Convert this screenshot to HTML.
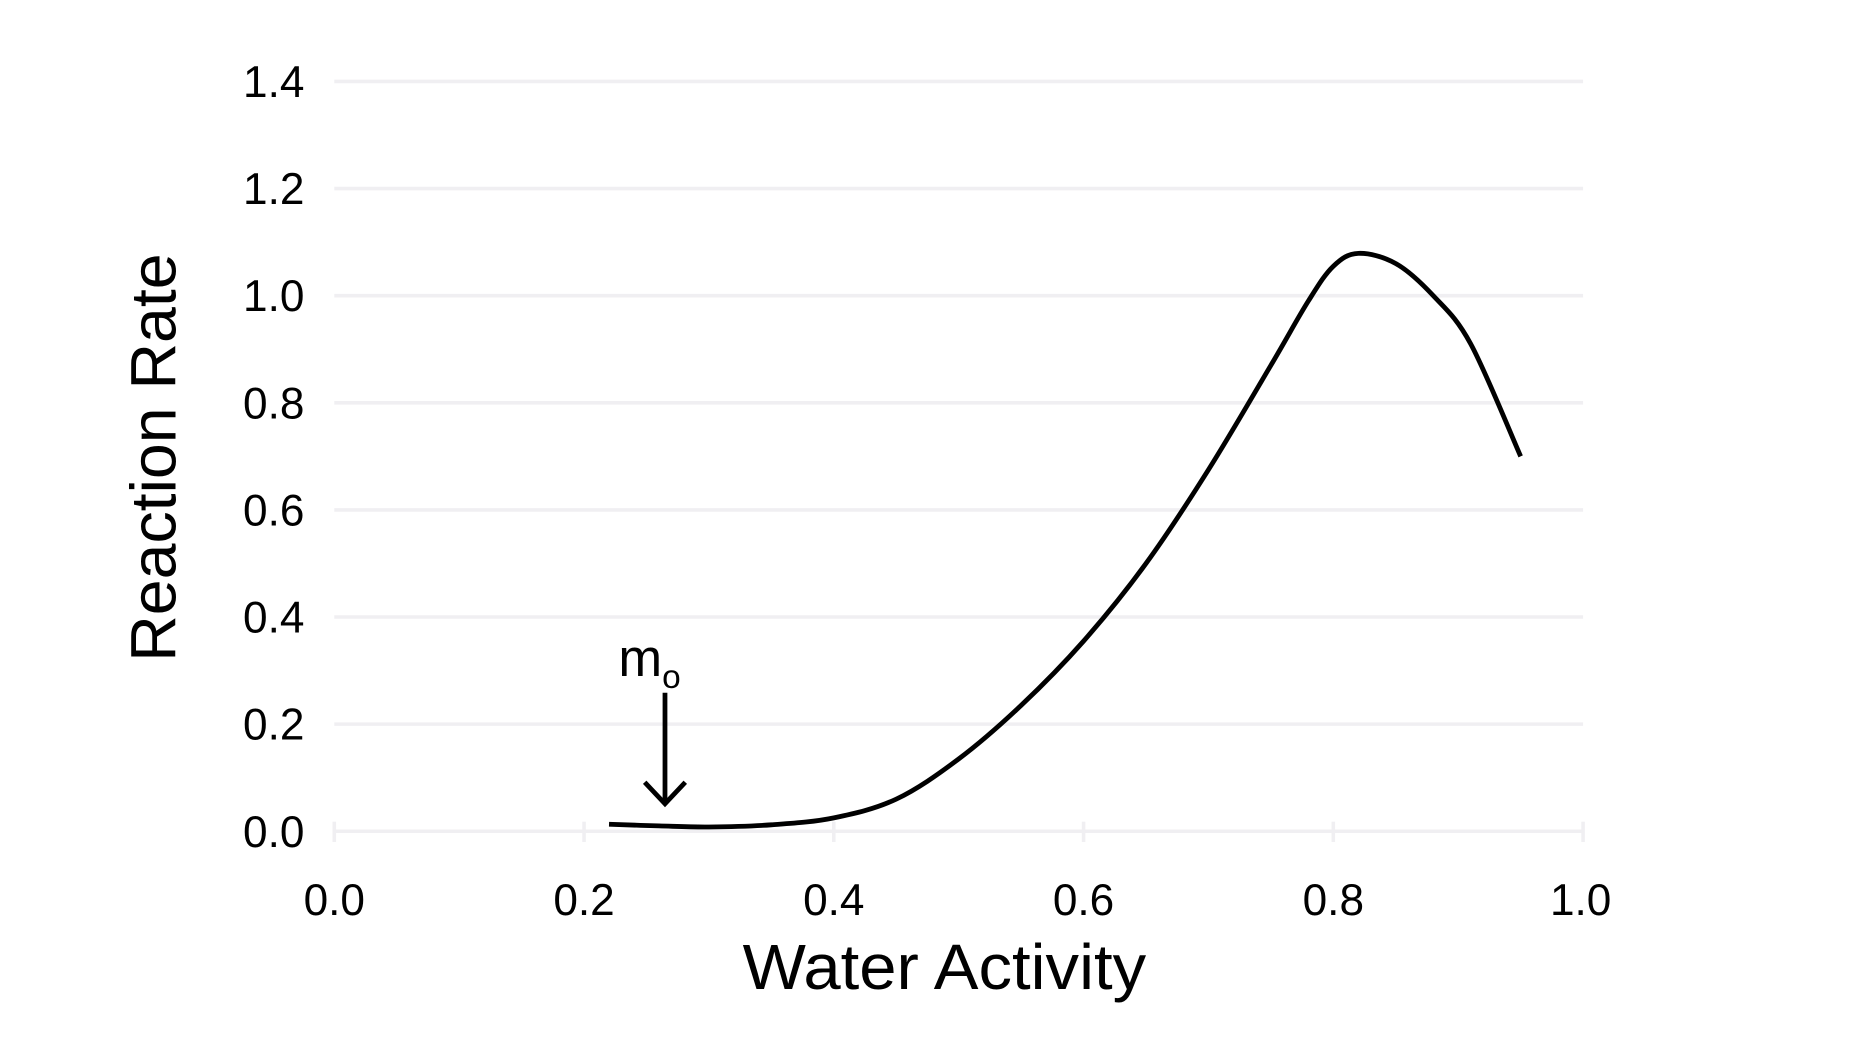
<!DOCTYPE html>
<html><head><meta charset="utf-8"><style>
html,body{margin:0;padding:0;background:#fff;}
svg{display:block;font-family:"Liberation Sans",sans-serif;}
</style></head><body>
<svg id="chart" width="1872" height="1056" viewBox="0 0 1568 884" xmlns="http://www.w3.org/2000/svg">
<g id="grid"></g>
<g id="yticks"></g>
<g id="xticks"></g>
<path id="curve" fill="none" stroke="#000" stroke-width="4" stroke-linecap="butt"/>
<g>
<text x="518" y="566" font-size="44">m<tspan font-size="28" dy="10">o</tspan></text>
<line x1="557" y1="580" x2="557" y2="673" stroke="#000" stroke-width="4"/>
<polyline points="540,655 557,673 574,655" fill="none" stroke="#000" stroke-width="4"/>
</g>
<text x="791" y="828" font-size="54" text-anchor="middle" textLength="338" lengthAdjust="spacingAndGlyphs">Water Activity</text>
<text x="0" y="0" font-size="54" text-anchor="middle" transform="translate(147,383) rotate(-90)">Reaction Rate</text>
</svg>
<script>
const xTickLabels=["0.0","0.2","0.4","0.6","0.8","1.0"];
const xTickValues=[0,0.2,0.4,0.6,0.8,1.0];
const yTickLabels=["0.0","0.2","0.4","0.6","0.8","1.0","1.2","1.4"];
const yTickValues=[0,0.2,0.4,0.6,0.8,1.0,1.2,1.4];
const activity=[0.22,0.26,0.30,0.35,0.40,0.45,0.50,0.55,0.60,0.65,0.70,0.75,0.78,0.80,0.82,0.85,0.88,0.91,0.95];
const rate=[0.013,0.010,0.008,0.012,0.025,0.06,0.135,0.235,0.355,0.50,0.675,0.87,0.99,1.055,1.079,1.06,1.00,0.91,0.70];
const NS="http://www.w3.org/2000/svg";
const X=v=>280+v*1046;
const Y=v=>696-v*448.6;
const grid=document.getElementById('grid'),yt=document.getElementById('yticks'),xt=document.getElementById('xticks');
yTickValues.forEach((v,i)=>{
 const l=document.createElementNS(NS,'line');
 l.setAttribute('x1',X(0));l.setAttribute('x2',X(1));l.setAttribute('y1',Y(v));l.setAttribute('y2',Y(v));
 l.setAttribute('stroke','#f0eff2');l.setAttribute('stroke-width','3');
 
 
 grid.appendChild(l);
 const t=document.createElementNS(NS,'text');
 t.setAttribute('x',255);t.setAttribute('y',Y(v)+13);t.setAttribute('font-size','37');t.setAttribute('text-anchor','end');
 t.textContent=yTickLabels[i];
 
 
 yt.appendChild(t);
});
xTickValues.forEach((v,i)=>{
 const m=document.createElementNS(NS,'line');
 m.setAttribute('x1',X(v));m.setAttribute('x2',X(v));m.setAttribute('y1',688);m.setAttribute('y2',705);
 m.setAttribute('stroke','#f0eff2');m.setAttribute('stroke-width','3');
 
 
 xt.appendChild(m);
 const t=document.createElementNS(NS,'text');
 t.setAttribute('x',X(v)+(i===5?-2:0));t.setAttribute('y',766);t.setAttribute('font-size','37');t.setAttribute('text-anchor','middle');
 t.textContent=xTickLabels[i];
 
 
 xt.appendChild(t);
});
const pts=activity.map((a,i)=>[X(a),Y(rate[i])]);
let d='M'+pts[0][0]+','+pts[0][1];
for(let i=0;i<pts.length-1;i++){
 const p0=pts[Math.max(i-1,0)],p1=pts[i],p2=pts[i+1],p3=pts[Math.min(i+2,pts.length-1)];
 const c1=[p1[0]+(p2[0]-p0[0])/6,p1[1]+(p2[1]-p0[1])/6];
 const c2=[p2[0]-(p3[0]-p1[0])/6,p2[1]-(p3[1]-p1[1])/6];
 d+=' C'+c1[0]+','+c1[1]+' '+c2[0]+','+c2[1]+' '+p2[0]+','+p2[1];
}
document.getElementById('curve').setAttribute('d',d);
</script>
</body></html>
